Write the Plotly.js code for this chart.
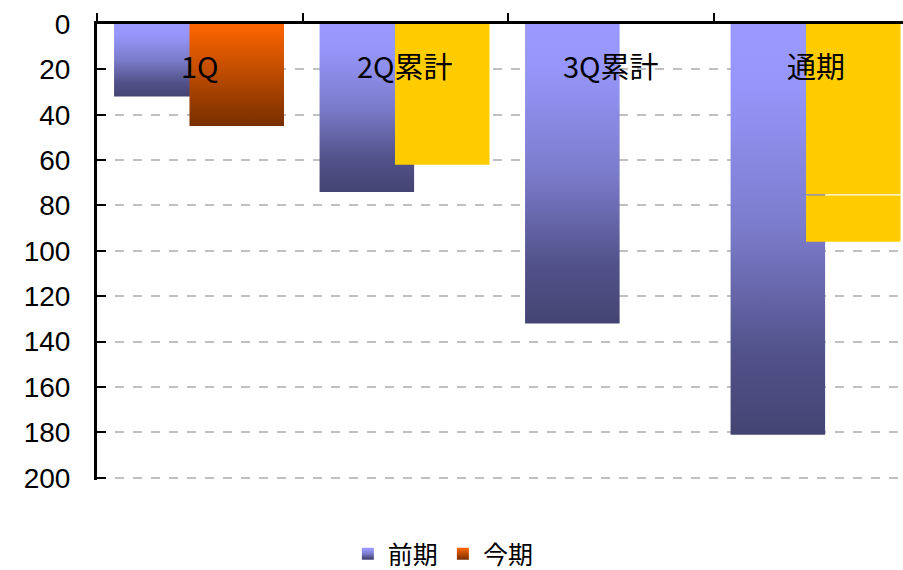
<!DOCTYPE html>
<html>
<head>
<meta charset="utf-8">
<script src="https://cdn.plot.ly/plotly-3.0.1.min.js"></script>
<style>
html,body{margin:0;padding:0;background:#fff;}
#chart{width:903px;height:570px;}
</style>
</head>
<body>
<div id="chart"></div>
<script>
// ---- data ----
var categories = ['1Q', '2Q累計', '3Q累計', '通期'];
var seriesNames = ['前期', '今期'];
var prevValues = [32, 74, 132, 181];          // 前期
var currValues = [45, 62, null, 75];          // 今期 (実績)
var currForecastTop = [null, null, null, 96]; // 今期 通期 (上段の上限)
var yTicks = [0, 20, 40, 60, 80, 100, 120, 140, 160, 180, 200];

// ---- styling ----
var gap = 0.6;
var forecastBase = currValues.map(function (v, i) { return currForecastTop[i] == null ? null : v + gap; });
var forecastLen = currForecastTop.map(function (v, i) { return v == null ? null : v - forecastBase[i]; });

var traces = [
  {
    type: 'bar', name: seriesNames[0], x: categories, y: prevValues,
    offset: -0.417, width: 0.46,
    marker: {color: '#9999FF', line: {width: 0}},
    hoverinfo: 'none'
  },
  {
    type: 'bar', name: seriesNames[1], x: categories, y: currValues,
    offset: -0.05, width: 0.46,
    marker: {color: ['#FF6600', '#FFCC00', '#FFCC00', '#FFCC00'], line: {width: 0}},
    hoverinfo: 'none'
  },
  {
    type: 'bar', name: seriesNames[1], x: categories, y: forecastLen, base: forecastBase,
    offset: -0.05, width: 0.46, showlegend: false,
    marker: {color: '#FFCC00', line: {width: 0}},
    hoverinfo: 'none'
  }
];

var annotations = categories.map(function (c) {
  return {
    x: c, y: 18, xref: 'x', yref: 'y', text: c, showarrow: false,
    xanchor: 'center', yanchor: 'middle',
    font: {family: '"Noto Sans CJK JP", sans-serif', size: 29, color: '#000'}
  };
});

var layout = {
  width: 903, height: 570,
  margin: {l: 97, r: 0, t: 24, b: 90, pad: 0},
  paper_bgcolor: '#fff', plot_bgcolor: '#fff',
  barmode: 'overlay',
  showlegend: true,
  legend: {
    orientation: 'h', xref: 'container', yref: 'container',
    x: 0.491, xanchor: 'center', y: 0, yanchor: 'bottom',
    font: {family: '"Noto Sans CJK JP", sans-serif', size: 25, color: '#000'},
    itemgap: 4, traceorder: 'normal'
  },
  xaxis: {
    type: 'category', side: 'top', range: [-0.5, 3.422],
    showline: true, linecolor: '#000', linewidth: 3,
    ticks: 'outside', tickson: 'boundaries', ticklen: 8, tickwidth: 2, tickcolor: '#000',
    showticklabels: false, showgrid: false, zeroline: false, fixedrange: true
  },
  yaxis: {
    range: [201, 0], tickvals: yTicks, ticktext: yTicks.map(String),
    showline: true, linecolor: '#000', linewidth: 3,
    ticks: 'inside', ticklen: 9, tickwidth: 2, tickcolor: '#000',
    ticklabelstandoff: 18,
    tickfont: {family: '"Liberation Sans", Arial, sans-serif', size: 28, color: '#000'},
    showgrid: true, gridcolor: '#C0C0C0', gridwidth: 2, griddash: 'dash',
    zeroline: false, fixedrange: true
  },
  annotations: annotations
};

Plotly.newPlot('chart', traces, layout, {staticPlot: true, displayModeBar: false}).then(function (gd) {
  var svg = gd.querySelector('.main-svg');
  var defs = svg.querySelector('defs');
  var NS = 'http://www.w3.org/2000/svg';
  function grad(id, stops) {
    var lg = document.createElementNS(NS, 'linearGradient');
    lg.setAttribute('id', id);
    lg.setAttribute('x1', '0'); lg.setAttribute('y1', '0');
    lg.setAttribute('x2', '0'); lg.setAttribute('y2', '1');
    stops.forEach(function (s) {
      var st = document.createElementNS(NS, 'stop');
      st.setAttribute('offset', s[0]);
      st.setAttribute('stop-color', s[1]);
      lg.appendChild(st);
    });
    defs.appendChild(lg);
  }
  grad('gPurple', [[0, '#9999FF'], [0.15, '#9696FA'], [0.5, '#7B7BCB'], [0.8, '#52528A'], [1, '#444473']]);
  grad('gOrange', [[0, '#FF6600'], [0.5, '#BB4A00'], [1, '#772E00']]);

  var barTraces = gd.querySelectorAll('.barlayer .trace');
  barTraces[0].querySelectorAll('.point path').forEach(function (p) { p.style.fill = 'url(#gPurple)'; });
  var pts = barTraces[1].querySelectorAll('.point');
  if (pts.length) { var pp = pts[0].querySelector('path'); if (pp) pp.style.fill = 'url(#gOrange)'; }

  var legPts = gd.querySelectorAll('.legend .traces');
  if (legPts[0]) legPts[0].querySelectorAll('.legendpoints path').forEach(function (p) { p.style.fill = 'url(#gPurple)'; });
  if (legPts[1]) legPts[1].querySelectorAll('.legendpoints path').forEach(function (p) { p.style.fill = 'url(#gOrange)'; });

  // nudge the legend slightly lower, as in the reference
  var leg = gd.querySelector('.legend');
  if (leg) {
    var t = leg.getAttribute('transform') || '';
    leg.setAttribute('transform', t + ' translate(0,7)');
  }
});
</script>
</body>
</html>
